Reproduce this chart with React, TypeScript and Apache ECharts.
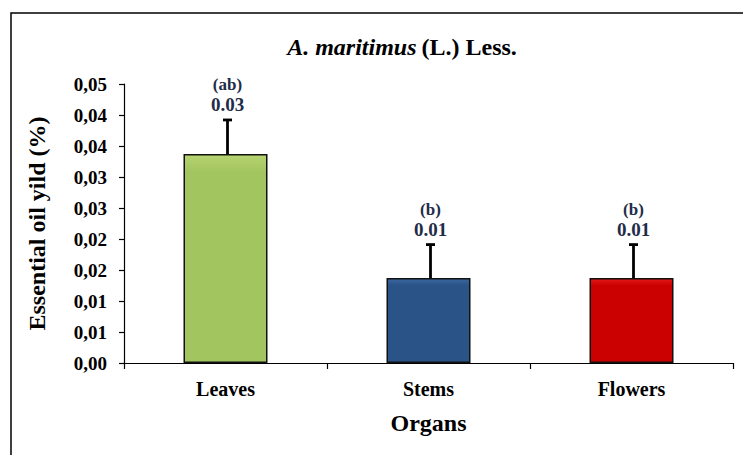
import React, { useEffect, useRef } from "react";
import * as echarts from "echarts";

const categories = ["Leaves", "Stems", "Flowers"];
const yieldValues = [0.0337, 0.0137, 0.0137];
const errorValues = [0.0055, 0.0054, 0.0054];
const sigLetters = ["(ab)", "(b)", "(b)"];
const valueLabels = ["0.03", "0.01", "0.01"];
const yTickLabels = ["0,00", "0,01", "0,01", "0,02", "0,02", "0,03", "0,03", "0,04", "0,04", "0,05"];
const barColors: [string, string][] = [
  ["#b6d470", "#a3c55f"],
  ["#3a66a0", "#2a5388"],
  ["#e41818", "#cb0000"],
];

const SERIF = "'Liberation Serif', 'Times New Roman', serif";

export default function App() {
  const ref = useRef<HTMLDivElement>(null);
  useEffect(() => {
    if (!ref.current) return;
    const chart = echarts.init(ref.current, null, { renderer: "svg" });
    const option: any = {
      animation: false,
      backgroundColor: "#ffffff",
      title: {
        text: "{i|A. maritimus} {n|(L.) Less.}",
        left: 397,
        top: 30,
        textAlign: "center",
        textStyle: {
          rich: {
            i: { fontFamily: SERIF, fontWeight: "bold", fontStyle: "italic", fontSize: 24, color: "#000" },
            n: { fontFamily: SERIF, fontWeight: "bold", fontSize: 24, color: "#000" },
          },
        },
      },
      graphic: [
        {
          type: "rect",
          shape: { x: 11, y: 13, width: 800, height: 500 },
          style: { fill: "none", stroke: "#000", lineWidth: 1.5 },
          silent: true,
        },
      ],
      grid: { left: 124, right: 10, top: 84, bottom: 92, containLabel: false },
      xAxis: {
        type: "category",
        data: categories,
        name: "Organs",
        nameLocation: "middle",
        nameGap: 48,
        nameTextStyle: { fontFamily: SERIF, fontWeight: "bold", fontSize: 24, color: "#000" },
        axisLine: { lineStyle: { color: "#000", width: 1.2 } },
        axisTick: { show: true, length: 6, alignWithLabel: false, lineStyle: { color: "#000", width: 1.2 } },
        axisLabel: { margin: 16, fontFamily: SERIF, fontWeight: "bold", fontSize: 20, color: "#000" },
      },
      yAxis: {
        type: "value",
        min: 0,
        max: 0.045,
        interval: 0.005,
        name: "Essential oil yild (%)",
        nameLocation: "middle",
        nameGap: 75,
        nameRotate: 90,
        nameTextStyle: { fontFamily: SERIF, fontWeight: "bold", fontSize: 24, color: "#000" },
        axisLine: { show: true, lineStyle: { color: "#000", width: 1.2 } },
        axisTick: { show: true, length: 5, lineStyle: { color: "#000", width: 1.2 } },
        splitLine: { show: false },
        axisLabel: {
          margin: 17,
          fontFamily: SERIF,
          fontWeight: "bold",
          fontSize: 19,
          color: "#000",
          formatter: (v: number) => yTickLabels[Math.round(v / 0.005)] ?? "",
        },
      },
      series: [
        {
          type: "bar",
          barWidth: 84,
          data: yieldValues.map((v, i) => ({
            value: v,
            itemStyle: {
              color: new echarts.graphic.LinearGradient(0, 0, 0, 1, [
                { offset: 0, color: barColors[i][0] },
                { offset: 0.08, color: barColors[i][1] },
                { offset: 1, color: barColors[i][1] },
              ]),
              borderColor: "#111",
              borderWidth: 1.5,
            },
          })),
        },
        {
          type: "custom",
          z: 5,
          data: yieldValues.map((v, i) => [i, v, errorValues[i]]),
          renderItem: (params: any, api: any) => {
            const idx = api.value(0);
            const v = api.value(1);
            const e = api.value(2);
            const base = api.coord([idx, v]);
            const top = api.coord([idx, v + e]);
            const i = params.dataIndex;
            const cx = top[0] + 2;
            return {
              type: "group",
              children: [
                {
                  type: "line",
                  shape: { x1: cx, y1: base[1], x2: cx, y2: top[1] },
                  style: { stroke: "#000", lineWidth: 2.8 },
                },
                {
                  type: "line",
                  shape: { x1: cx - 4.5, y1: top[1], x2: cx + 4.5, y2: top[1] },
                  style: { stroke: "#000", lineWidth: 2.8 },
                },
                {
                  type: "text",
                  x: cx,
                  y: top[1] - 6,
                  style: {
                    text: valueLabels[i],
                    align: "center",
                    verticalAlign: "bottom",
                    font: `bold 19px ${SERIF}`,
                    fill: "#1f2d4a",
                  },
                },
                {
                  type: "text",
                  x: cx,
                  y: top[1] - 27,
                  style: {
                    text: sigLetters[i],
                    align: "center",
                    verticalAlign: "bottom",
                    font: `bold 17px ${SERIF}`,
                    fill: "#1f2d4a",
                  },
                },
              ],
            };
          },
        },
      ],
    };
    chart.setOption(option);
    return () => chart.dispose();
  }, []);
  return (
    <div
      ref={ref}
      style={{ position: "fixed", left: 0, top: 0, width: 743, height: 455 }}
    />
  );
}
